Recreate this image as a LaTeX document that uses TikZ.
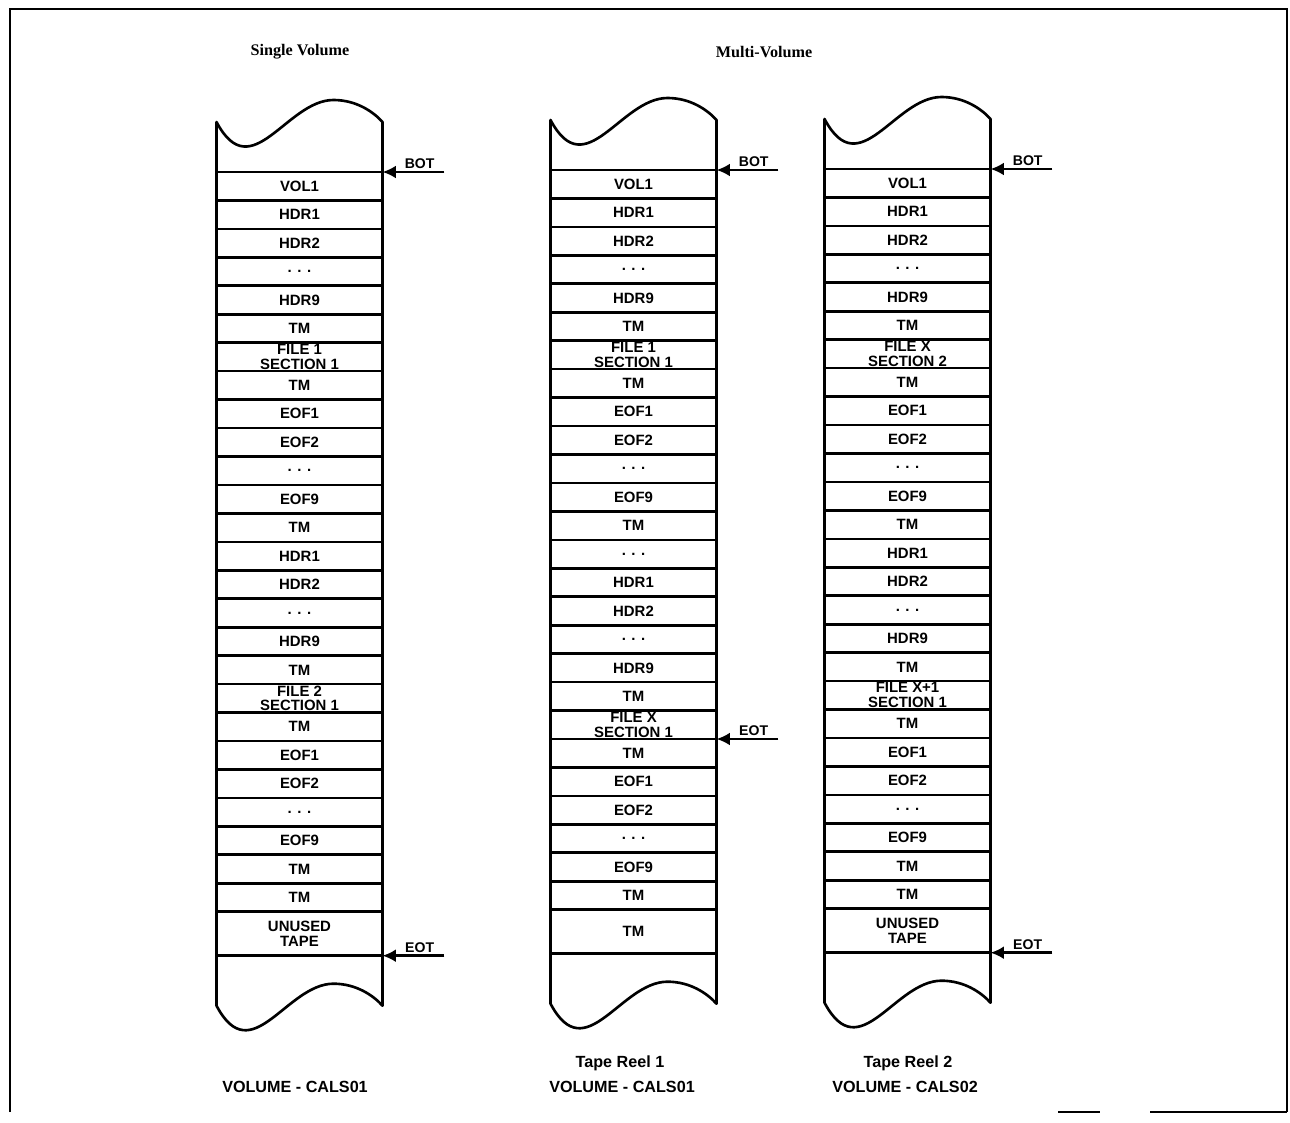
\documentclass[tikz,border=0pt]{standalone}
\usepackage{fontspec}
\setmainfont{Liberation Serif}
\setsansfont{Liberation Sans}
\usetikzlibrary{arrows.meta}

\begin{document}
\begin{tikzpicture}[x=0.02cm, y=-0.02cm,
	cell/.style={draw, line width=1.5pt, minimum width=3.32cm, minimum height=0.569cm, inner sep=0pt, outer sep=0pt},
	celltext/.style={font=\sffamily\bfseries\fontsize{8.5}{8.5}\selectfont, align=center, inner sep=0pt},
	tapeline/.style={line width=1.5pt, line join=round},
	tapemark/.style={line width=1.4pt, -{Latex[length=0.27cm, width=0.26cm]}},
	marktext/.style={font=\sffamily\bfseries\fontsize{8}{8}\selectfont, inner sep=1pt},
	heading/.style={font=\bfseries\fontsize{9.2}{10}\selectfont},
	reeltext/.style={font=\sffamily\bfseries\fontsize{9.2}{10}\selectfont}]

	\useasboundingbox (0,0) rectangle (1290,1122);
	% frame
	\draw[line width=1.6pt] (10,1112) -- (10,9) -- (1287,9) -- (1287,1112);
	\draw[line width=1.6pt] (1058,1112) -- (1100,1112) (1150,1112) -- (1287,1112);

	\def\h{28.45}

	% single volume
	\def\xa{299.5}
	\def\ya{172}
	\foreach \txt [count=\i from 0] in {VOL1, HDR1, HDR2, . . ., HDR9, TM, FILE 1\\SECTION 1, TM, EOF1, EOF2, . . ., EOF9, TM, HDR1, HDR2, . . ., HDR9, TM, FILE 2\\SECTION 1, TM, EOF1, EOF2, . . ., EOF9, TM, TM}
		\node[cell, label={[celltext]center:\txt}] (a\i) at (\xa, {\ya+(\i+0.5)*\h}) {};
	\node[cell, minimum height=0.88cm, label={[celltext]center:UNUSED\\TAPE}] (a26) at (\xa, {\ya+26*\h+22}) {};

	% multi volume, reel 1
	\def\xb{633.5}
	\def\yb{170}
	\foreach \txt [count=\i from 0] in {VOL1, HDR1, HDR2, . . ., HDR9, TM, FILE 1\\SECTION 1, TM, EOF1, EOF2, . . ., EOF9, TM, . . ., HDR1, HDR2, . . ., HDR9, TM, FILE X\\SECTION 1, TM, EOF1, EOF2, . . ., EOF9, TM}
		\node[cell, label={[celltext]center:\txt}] (b\i) at (\xb, {\yb+(\i+0.5)*\h}) {};
	\node[cell, minimum height=0.88cm, label={[celltext]center:TM}] (b26) at (\xb, {\yb+26*\h+22}) {};

	% multi volume, reel 2
	\def\xc{907.5}
	\def\yc{169}
	\foreach \txt [count=\i from 0] in {VOL1, HDR1, HDR2, . . ., HDR9, TM, FILE X\\SECTION 2, TM, EOF1, EOF2, . . ., EOF9, TM, HDR1, HDR2, . . ., HDR9, TM, FILE X+1\\SECTION 1, TM, EOF1, EOF2, . . ., EOF9, TM, TM}
		\node[cell, label={[celltext]center:\txt}] (c\i) at (\xc, {\yc+(\i+0.5)*\h}) {};
	\node[cell, minimum height=0.88cm, label={[celltext]center:UNUSED\\TAPE}] (c26) at (\xc, {\yc+26*\h+22}) {};

	% torn tape ends
	\foreach \t in {a,b,c} {
		\draw[tapeline] (\t0.north west) -- ++(0,-50) .. controls +(35,66) and +(-47,0) .. ++(117,-22) .. controls +(23,0) and +(-9,-10) .. ++(49,22) -- (\t0.north east);
		\draw[tapeline] (\t26.south west) -- ++(0,50) .. controls +(35,66) and +(-47,0) .. ++(117,-22) .. controls +(23,0) and +(-9,-10) .. ++(49,22) -- (\t26.south east);
	}

	% BOT / EOT markers
	\coordinate (bota) at ([xshift=1.24cm]a0.north east);
	\coordinate (eota) at ([xshift=1.24cm]a26.south east);
	\coordinate (botb) at ([xshift=1.24cm]b0.north east);
	\coordinate (eotb) at ([xshift=1.24cm]b19.south east);
	\coordinate (botc) at ([xshift=1.24cm]c0.north east);
	\coordinate (eotc) at ([xshift=1.24cm]c26.south east);
	\draw[tapemark] (bota) -- (a0.north east) node[marktext, pos=0.4, above] (botta) {BOT};
	\draw[tapemark] (eota) -- (a26.south east) node[marktext, pos=0.4, above] (eotta) {EOT};
	\draw[tapemark] (botb) -- (b0.north east) node[marktext, pos=0.4, above] (bottb) {BOT};
	\draw[tapemark] (eotb) -- (b19.south east) node[marktext, pos=0.4, above] (eottb) {EOT};
	\draw[tapemark] (botc) -- (c0.north east) node[marktext, pos=0.4, above] (bottc) {BOT};
	\draw[tapemark] (eotc) -- (c26.south east) node[marktext, pos=0.4, above] (eottc) {EOT};

	% headings and reel names
	\node[heading] (single) at (300,52) {Single Volume};
	\node[heading] (multi) at (764,52) {Multi-Volume};
	\node[reeltext] (vola) at (295,1087) {VOLUME - CALS01};
	\node[reeltext] (reelb) at (620,1063) {Tape Reel 1};
	\node[reeltext] (volb) at (622,1087) {VOLUME - CALS01};
	\node[reeltext] (reelc) at (908,1063) {Tape Reel 2};
	\node[reeltext] (volc) at (905,1087) {VOLUME - CALS02};
\end{tikzpicture}
\end{document}
